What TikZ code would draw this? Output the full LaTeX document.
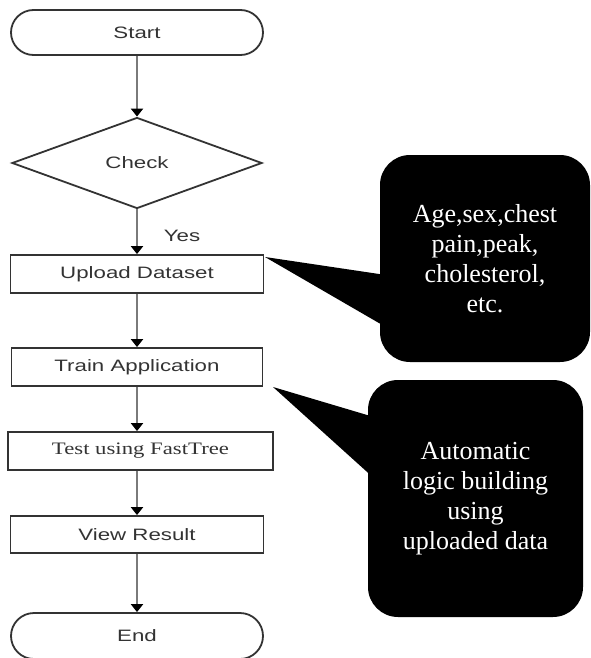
\documentclass[tikz,border=0pt]{standalone}
\usepackage{fontspec}
\setmainfont{Liberation Serif}
\newfontfamily\labelsans[FakeStretch=1.35]{Liberation Sans}
\newfontfamily\labelserif[FakeStretch=1.3]{Liberation Serif}
\usetikzlibrary{shapes.geometric,shapes.misc,arrows.meta}
\definecolor{boxgray}{HTML}{333333}
\definecolor{textgray}{HTML}{333333}
\definecolor{arrowgray}{HTML}{7A7A7A}
\begin{document}
\begin{tikzpicture}[x=1pt,y=1pt,
  flowbox/.style={draw=boxgray, line width=1.8pt, minimum height=38pt, inner sep=0pt,
    font=\labelsans\fontsize{16.5}{19}\selectfont, text=textgray},
  termbox/.style={flowbox, rounded rectangle, minimum width=252pt, minimum height=45pt},
  decisionbox/.style={flowbox, diamond, aspect=2.75, minimum width=250pt, minimum height=91pt},
  flowarrow/.style={draw=arrowgray, line width=2pt, -{Triangle[width=12pt,length=8pt,color=black]}},
  calloutbox/.style={fill=black, rounded corners=30pt, text=white, align=center, inner sep=0pt,
    font=\fontsize{26}{30}\selectfont},
  yeslabel/.style={font=\labelsans\fontsize{16.5}{19}\selectfont, text=textgray, inner sep=0pt}]
\useasboundingbox (0,0) rectangle (590,-658);

% flowchart nodes
\node[termbox] (start) at (137,-32.5) {Start};
\node[decisionbox] (check) at (137,-163) {Check};
\node[flowbox, minimum width=253pt] (upload) at (137,-274) {Upload Dataset};
\node[flowbox, minimum width=251pt] (train) at (137,-367) {Train Application};
\node[flowbox, minimum width=265pt, font=\labelserif\fontsize{17.5}{20}\selectfont] (test) at (140.5,-451) {Test using FastTree};
\node[flowbox, minimum width=253pt, minimum height=37pt] (view) at (137,-534.5) {View Result};
\node[termbox, minimum height=46pt] (end) at (137,-636) {End};
\node[yeslabel] (yes) at (182,-236) {Yes};

% connectors
\draw[flowarrow] (start.south) -- (check.north);
\draw[flowarrow] (check.south) -- (upload.north);
\draw[flowarrow] (upload.south) -- (train.north);
\draw[flowarrow] (train.south) -- (train.south |- test.north);
\draw[flowarrow] (test.south -| train.south) -- (view.north);
\draw[flowarrow] (view.south) -- (end.north);

% callouts
\node[calloutbox, minimum width=210pt, minimum height=207pt] (c1) at (485,-258.5)
  {Age,sex,chest\\pain,peak,\\cholesterol,\\etc.};
\node[calloutbox, minimum width=215pt, minimum height=237pt] (c2) at (475.5,-498.5)
  {Automatic\\logic building\\using\\uploaded data};
\coordinate (tip1) at (265,-257);
\coordinate (tip2) at (273,-387);
\path (c1.west) ++(6,0) coordinate (c1w);
\path (c2.west) ++(6,0) coordinate (c2w);
\fill[black] (tip1) -- (c1w |- 0,-275) -- (c1w |- 0,-327) -- cycle;
\fill[black] (tip2) -- (c2w |- 0,-417) -- (c2w |- 0,-478) -- cycle;
\end{tikzpicture}
\end{document}
